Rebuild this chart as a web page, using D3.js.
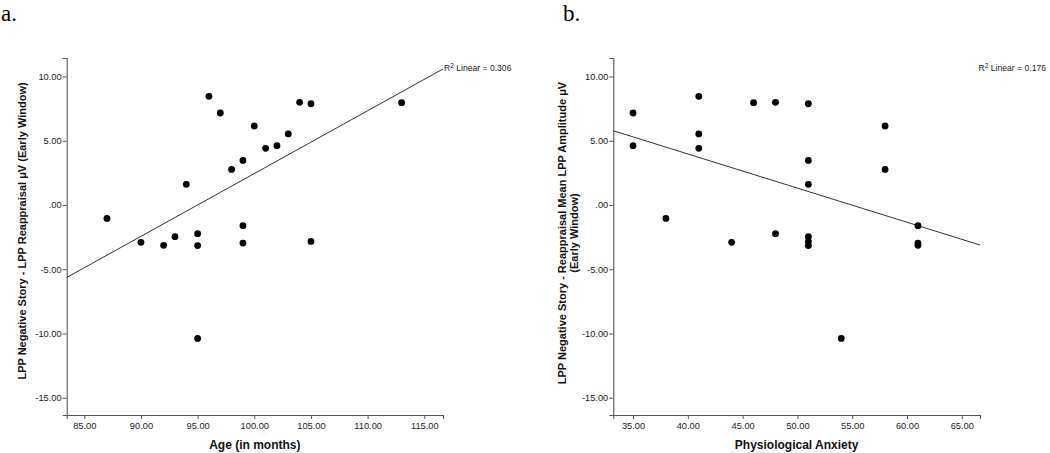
<!DOCTYPE html>
<html><head><meta charset="utf-8">
<script src="https://cdn.jsdelivr.net/npm/d3@7"></script>
<style>body{margin:0;background:#fff;} svg{display:block;}</style>
</head><body>
<svg id="c" width="1050" height="453"></svg>
<script>
// Panel a: Age vs LPP difference
const ageMonths = [87,90,92,93,94,95,95,96,97,98,99,99,99,100,101,102,103,104,105,105,113,95];
const lppA = [-1.04,-2.90,-3.14,-2.46,1.61,-2.23,-3.16,8.46,7.16,2.77,3.47,-1.61,-2.96,6.15,4.41,4.62,5.53,7.99,7.88,-2.83,7.96,-10.38];
// Panel b: Physiological anxiety vs LPP difference
const anxiety = [35,35,38,41,41,41,44,46,48,48,51,51,51,51,51,51,54,58,58,61,61,61];
const lppB = [7.16,4.62,-1.04,8.46,5.53,4.41,-2.90,7.96,7.99,-2.23,7.88,3.47,1.61,-2.46,-2.83,-3.16,-10.38,6.15,2.77,-1.61,-2.96,-3.14];
const yTicks = [10,5,0,-5,-10,-15];
const xTicksA = [85,90,95,100,105,110,115];
const xTicksB = [35,40,45,50,55,60,65];
const r2A = "0.306", r2B = "0.176";
const yTitleA = ["LPP Negative Story - LPP Reappraisal μV (Early Window)"];
const yTitleB = ["LPP Negative Story - Reappraisal Mean LPP Amplitude μV", "(Early Window)"];
const xTitleA = "Age (in months)", xTitleB = "Physiological Anxiety";

const svg = d3.select("#c");
const fmt = v => { let s = Math.abs(v).toFixed(2); if (s.startsWith("0")) s = s.slice(1); return (v<0?"-":"") + s; };

function panel(o){
  const g = svg.append("g");
  const x = d3.scaleLinear().domain(o.xDom).range([o.x0, o.x1]);
  const y = d3.scaleLinear().domain([-16.34, 11.44]).range([415, 58]);
  const axCol = "#555";
  const ya = g.append("g").attr("transform",`translate(${o.x0},0)`)
    .call(d3.axisLeft(y).tickValues(yTicks).tickFormat(fmt).tickSize(4).tickPadding(1));
  const xa = g.append("g").attr("transform",`translate(0,415)`)
    .call(d3.axisBottom(x).tickValues(o.xTicks).tickFormat(d=>d.toFixed(2)).tickSize(4).tickPadding(3));
  [ya,xa].forEach(a=>{
    a.select(".domain").attr("stroke",axCol).attr("stroke-width",1.1);
    a.selectAll(".tick line").attr("stroke",axCol);
    a.selectAll(".tick text").attr("fill","#222").style("font-family","Liberation Sans, Arial, sans-serif").style("font-size","9.3px");
  });
  // regression line
  const mx = d3.mean(o.xs), my = d3.mean(o.ys);
  let sxy=0, sxx=0;
  o.xs.forEach((v,i)=>{ sxy += (v-mx)*(o.ys[i]-my); sxx += (v-mx)*(v-mx); });
  const b = sxy/sxx, a0 = my - b*mx;
  const xd = x.domain();
  g.append("line").attr("x1",x(xd[0])).attr("y1",y(a0+b*xd[0]))
    .attr("x2",x(xd[1])).attr("y2",y(a0+b*xd[1]))
    .attr("stroke","#333").attr("stroke-width",1);
  g.selectAll("circle.p").data(o.xs.map((v,i)=>[v,o.ys[i]])).join("circle")
    .attr("cx",d=>x(d[0])).attr("cy",d=>y(d[1])).attr("r",3.4).attr("fill","#000");
  // R2 label
  const t = g.append("text").attr("x",o.r2x).attr("y",71).attr("text-anchor",o.r2anchor)
    .style("font-family","Liberation Sans, Arial, sans-serif").style("font-size","8.6px").attr("fill","#222");
  t.append("tspan").text("R");
  t.append("tspan").text("2").attr("dy",-3.5).style("font-size","6.5px");
  t.append("tspan").text(" Linear = "+o.r2).attr("dy",3.5);
  // x title
  g.append("text").attr("x",(o.x0+o.x1)/2).attr("y",449).attr("text-anchor","middle")
    .style("font-family","Liberation Sans, Arial, sans-serif").style("font-weight","bold").style("font-size","12px")
    .attr("fill","#111").text(o.xTitle);
  // y title
  o.yTitle.forEach((s,i)=>{
    g.append("text").attr("transform",`translate(${o.ytx + i*11.5},${o.yty}) rotate(-90)`).attr("text-anchor","middle")
      .style("font-family","Liberation Sans, Arial, sans-serif").style("font-weight","bold").style("font-size","11px")
      .attr("fill","#111").text(s);
  });
  // panel label
  svg.append("text").attr("x",o.lx).attr("y",21)
    .style("font-family","Liberation Serif, Times New Roman, serif").style("font-size","23px").attr("fill","#000").text(o.label);
}

panel({xs:ageMonths, ys:lppA, xDom:[83.45,116.65], x0:66.7, x1:443, xTicks:xTicksA, r2:r2A, r2x:444, r2anchor:"start",
  xTitle:xTitleA, yTitle:yTitleA, ytx:26, yty:231, label:"a.", lx:1});
panel({xs:anxiety, ys:lppB, xDom:[33.2,66.66], x0:613.3, x1:980, xTicks:xTicksB, r2:r2B, r2x:1046, r2anchor:"end",
  xTitle:xTitleB, yTitle:yTitleB, ytx:566, yty:233, label:"b.", lx:563});
</script>
</body></html>
